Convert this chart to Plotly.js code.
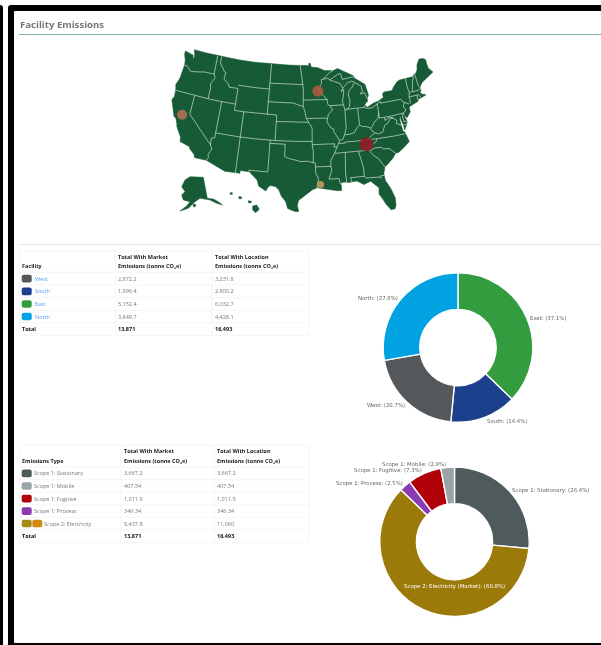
<!DOCTYPE html>
<html><head><meta charset="utf-8"><script src="https://cdn.plot.ly/plotly-3.0.1.min.js"></script>
<style>html,body{margin:0;padding:0;background:#fff;overflow:hidden}#c{width:601px;height:645px;filter:blur(0.4px)}</style></head>
<body><div id="c"></div>
<script>
// ---- data ----
const facilityNames=['West','South','East','North'];
const facilityColors=['#54585b','#1c408c','#339c3f','#00a2e2'];
const facilityMarket=[2872.2,1996.4,5152.4,3849.7];
const facilityMarketText=['2,872.2','1,996.4','5,152.4','3,849.7'];
const facilityLocationText=['3,231.8','2,800.2','6,032.7','4,428.1'];
const pieFacilityOrder=['East','South','West','North'];

const typeNames=['Scope 1: Stationary','Scope 1: Mobile','Scope 1: Fugitive','Scope 1: Process','Scope 2: Electricity'];
const typeColors=['#4f5a5c','#98a4a6','#b00008','#8a3bb0','#9b7a0a'];
const typeMarket=[3667.2,407.54,1011.9,346.34,8437.8];
const typeMarketText=['3,667.2','407.54','1,011.9','346.34','8,437.8'];
const typeLocationText=['3,667.2','407.54','1,011.9','346.34','11,060'];
const pieTypeOrder=['Scope 1: Stationary','Scope 2: Electricity','Scope 1: Process','Scope 1: Fugitive','Scope 1: Mobile'];
const totalMarketText='13,871', totalLocationText='16,493';

// facility sites, lon/lat
const siteLon=[-121.5,-93.2,-83.9,-93.2];
const siteLat=[38.6,44.9,35.96,30.2];
const siteSize=[10,11,14,7];
const siteColor=['#b0704f','#ab5a3f','#8e1f25','#c79a5e'];

// contiguous states, lon/lat
const mainland=[[-124.7,48.4],[-123.2,48.15],[-122.7,48.1],[-122.4,47.4],[-122.3,47.9],[-122.5,48.5],[-122.8,49],[-120,49],[-116,49],[-112,49],[-108,49],[-104,49],[-100,49],[-97.2,49],[-95.15,49],[-95.15,49.38],[-94.8,49.3],[-94.6,48.75],[-93,48.6],[-91.5,48.1],[-90,48.1],[-89.5,48],[-88.4,48.3],[-84.9,46.9],[-84.55,46.45],[-84.1,46.2],[-83.6,46],[-83.5,45.8],[-82.5,45.3],[-82.1,43.6],[-82.45,43],[-82.5,42.6],[-83.1,42.25],[-83.15,42.05],[-82.7,41.7],[-81.25,42.2],[-80.1,42.4],[-78.95,42.85],[-79.05,43.27],[-78.7,43.63],[-76.8,43.63],[-76.4,44.1],[-75.3,44.85],[-74.7,45],[-71.5,45],[-71.4,45.25],[-70.8,45.4],[-70.3,45.9],[-70,46.7],[-69.2,47.45],[-68.3,47.35],[-67.8,47.07],[-67.8,45.7],[-67.45,45.3],[-67,44.85],[-68.5,44.3],[-70,43.75],[-70.7,43.07],[-70.8,42.85],[-70.6,42.65],[-71,42.3],[-70.6,41.95],[-70,41.8],[-70,41.65],[-71.1,41.5],[-71.8,41.32],[-71.9,41.05],[-73.7,40.6],[-74,40.5],[-74,39.75],[-74.9,38.95],[-75.5,39.5],[-75.1,38.8],[-75.05,38.45],[-75.25,38],[-75.9,37.15],[-75.95,37.95],[-76.25,38.9],[-76.1,39.4],[-76.5,39],[-76.4,38.2],[-76.3,37],[-76,36.9],[-75.75,35.95],[-75.5,35.25],[-76.5,34.65],[-77.9,33.9],[-78.55,33.85],[-79.2,33.2],[-80.5,32.3],[-81,32],[-81.4,31],[-81.3,29.9],[-80.55,28.45],[-80.05,26.9],[-80.15,25.75],[-80.4,25.2],[-81.1,25.15],[-81.8,26.1],[-82.2,26.9],[-82.8,27.9],[-82.65,28.9],[-83.4,29.6],[-84,30.1],[-85.3,29.7],[-86.5,30.4],[-87.5,30.3],[-88,30.25],[-88.9,30.4],[-89.6,30.2],[-89.4,29.9],[-89.4,29.1],[-90.2,29.1],[-91.3,29.3],[-92.3,29.55],[-93.85,29.7],[-94.7,29.4],[-95.9,28.6],[-97.2,27.7],[-97.4,26.9],[-97.15,25.95],[-97.6,25.9],[-98.2,26.05],[-99.1,26.4],[-99.5,27.5],[-100.3,28.3],[-100.8,29.25],[-101.4,29.75],[-102.3,29.88],[-102.7,29.7],[-103.15,28.98],[-104.5,29.65],[-104.9,30.6],[-106.5,31.75],[-108.2,31.78],[-108.2,31.33],[-111.07,31.33],[-114.8,32.5],[-117.12,32.53],[-117.3,33],[-118.4,33.75],[-118.5,34.03],[-119.2,34.15],[-120.5,34.45],[-120.65,35.15],[-121.9,36.6],[-122,36.95],[-122.5,37.75],[-123,38],[-123.8,39.3],[-124.4,40.4],[-124.1,41],[-124.2,42],[-124.55,42.85],[-124.1,44],[-123.95,46.2],[-124.1,46.9],[-124.7,47.9]];
const stateBorders=[
[[-123.95,46.2],[-123.2,46.15],[-122.8,45.85],[-122.3,45.55],[-121.2,45.65],[-119.3,45.95],[-119,46],[-116.92,46]],
[[-117.03,49],[-117.04,46.4],[-116.92,46],[-116.5,45.5],[-116.85,44.9],[-117.2,44.4],[-117.03,43.8],[-117.03,42]],
[[-124.2,42],[-120,42],[-117.03,42],[-114.04,42],[-111.05,42]],
[[-116.05,49],[-116.05,48],[-114.7,46.7],[-114.35,46.65],[-114.5,45.55],[-113.45,45.05],[-113,44.45],[-111.5,44.55],[-111.05,44.5],[-111.05,42],[-111.05,41],[-109.05,41],[-106,41],[-104.05,41],[-102.05,41],[-102.05,40],[-102.05,37]],
[[-111.05,45],[-109,45],[-107,45],[-104.05,45]],
[[-104.05,49],[-104.05,45],[-104.05,41]],
[[-104.05,45.94],[-100,45.94],[-96.56,45.94]],
[[-104.05,43],[-100,43],[-98.5,43],[-97.9,42.8],[-96.45,42.5],[-96,41.5],[-95.85,40.7],[-95.3,40],[-94.6,39.1],[-94.62,37]],
[[-102.05,40],[-98,40],[-95.3,40]],
[[-114.05,37],[-111,37],[-109.05,37],[-106,37],[-103,37],[-102.05,37],[-98,37],[-94.62,37],[-94.62,36.5],[-90.15,36.5],[-90.37,36],[-89.7,36]],
[[-109.05,41],[-109.05,37],[-109.05,31.33]],
[[-114.04,42],[-114.05,37],[-114.05,36.2],[-114.7,36.1],[-114.6,35]],
[[-120,42],[-120,39],[-114.6,35],[-114.15,34.3],[-114.5,33.9],[-114.7,33.4],[-114.5,33],[-114.8,32.5]],
[[-103,37],[-103.04,36.5],[-103.05,32],[-106.6,32],[-106.5,31.75]],
[[-103.04,36.5],[-100,36.5],[-100,34.55],[-99.2,34.3],[-98.1,34.1],[-96.9,33.85],[-95.5,33.9],[-94.48,33.65],[-94.04,33.55]],
[[-94.62,36.5],[-94.43,35.4],[-94.48,33.65]],
[[-94.04,33.55],[-94.04,33],[-94.04,32],[-93.55,31.2],[-93.7,30.6],[-93.85,29.7]],
[[-94.04,33],[-91.15,33]],
[[-89.7,36],[-89.95,35.5],[-90.3,35],[-90.6,34.6],[-91.1,33.9],[-91.15,33],[-91,32.4],[-91.6,31],[-89.75,31],[-89.6,30.2]],
[[-95.77,40.6],[-91.7,40.6],[-91.4,40.4]],
[[-97.2,49],[-96.8,47],[-96.56,45.94],[-96.45,45.3],[-96.45,43.5],[-96.45,42.5]],
[[-96.45,43.5],[-91.22,43.5],[-92.75,44.75],[-92.75,45.6],[-92.3,46.1],[-92.3,46.7],[-92,46.7],[-90.4,47.7],[-89.5,48]],
[[-92,46.7],[-90.8,46.9],[-90.4,46.55],[-88.4,47.4],[-87.8,47.45],[-87.5,46.5],[-86,46.65],[-85,46.75],[-84.55,46.45]],
[[-90.4,46.55],[-88.1,45.9],[-87.6,45.1],[-88,44.55],[-87.4,44.9],[-87.5,44.2],[-87.9,43],[-87.8,42.5],[-87.53,41.7],[-87.2,41.65],[-86.5,42.1],[-86.25,43],[-86.5,44],[-86.2,44.7],[-85.6,45],[-85,45.7],[-84.75,45.8],[-83.4,45.1],[-83.3,44.3],[-83.9,43.9],[-82.9,44.05],[-82.45,43]],
[[-84.75,45.85],[-85.5,46.1],[-86.5,45.85],[-87.6,45.1]],
[[-90.65,42.5],[-87.8,42.5]],
[[-91.22,43.5],[-91.1,42.7],[-90.65,42.5],[-90.15,41.8],[-91.1,41.2],[-91.4,40.4],[-91.5,40],[-90.7,39],[-90.15,38.8],[-90.2,38.4],[-89.5,37.3],[-89.15,37],[-89.4,36.5],[-89.7,36]],
[[-87.53,41.7],[-87.53,39.35],[-87.6,38.8],[-88.05,37.8]],
[[-89.15,37],[-88.45,37.1],[-88.05,37.8],[-87.1,37.8],[-86,38],[-85.4,38.7],[-84.8,39.1],[-84.3,38.8],[-83.5,38.7],[-82.6,38.4],[-82.2,38.6],[-81.75,39.2],[-80.85,39.7],[-80.52,40.64]],
[[-84.8,39.1],[-84.8,41.7]],
[[-87.2,41.76],[-84.8,41.76],[-83.45,41.73],[-83.15,42.05]],
[[-83.45,41.73],[-82.7,41.5],[-81.7,41.5],[-80.52,41.98],[-79.76,42.27],[-79.76,42],[-75.35,42],[-75,41.5],[-74.7,41.36],[-73.9,41]],
[[-80.52,42],[-80.52,40.64],[-80.52,39.72],[-78,39.72],[-75.8,39.72],[-75.4,39.8]],
[[-74.7,41.36],[-75.1,41],[-75.1,40.6],[-74.75,40.2],[-75.4,39.8],[-75.5,39.5]],
[[-75.8,39.72],[-75.7,38.46],[-75.05,38.45]],
[[-79.48,39.72],[-79.48,39.2],[-78.4,39.6],[-77.7,39.3],[-77.1,38.9],[-77.3,38.4],[-76.3,38]],
[[-75.9,37.95],[-75.25,38]],
[[-77.7,39.3],[-78.35,39.4],[-78.9,38.75],[-79.7,38.5],[-80.3,37.5],[-81.3,37.3],[-81.95,37.55],[-82.6,38.1],[-82.6,38.4]],
[[-81.95,37.55],[-83.68,36.6]],
[[-75.9,36.55],[-78,36.55],[-81.65,36.59],[-83.68,36.6],[-86,36.63],[-88.07,36.65],[-88.07,36.5],[-89.4,36.5]],
[[-81.65,36.59],[-82,36.1],[-83.1,35.75],[-84.3,35]],
[[-90.3,35],[-88.2,35],[-85.6,34.98],[-84.3,35],[-83.1,35],[-82.4,35.2],[-81.05,35.15],[-80.8,34.82],[-79.65,34.8],[-78.55,33.85]],
[[-83.1,35],[-83.35,34.7],[-82.75,34],[-81.9,33.4],[-81.4,32.6],[-81,32]],
[[-85.6,34.98],[-85.18,32.85],[-85,32.3],[-85.05,31],[-87.6,31],[-87.45,30.3]],
[[-85.05,31],[-84.85,30.7],[-82.2,30.57],[-82.05,30.35],[-82,30.75],[-81.4,30.7]],
[[-88.2,35],[-88.45,31.9],[-88.4,30.25]],
[[-73.35,45],[-73.4,43.6],[-73.25,42.75],[-73.5,42.05],[-73.5,41.3],[-73.65,41]],
[[-71.5,45],[-72.05,44.1],[-72.45,43],[-72.46,42.73]],
[[-73.25,42.75],[-71.3,42.7],[-70.8,42.85]],
[[-73.5,42.05],[-71.8,42.02],[-71.38,42.02],[-71.1,41.5]],
[[-71.8,42.02],[-71.85,41.32]],
[[-71.08,45.3],[-70.98,43.4],[-70.7,43.07]]
];
// inset states, in map units
const alaska=[[570,530],[610,532],[622,595],[640,597],[655,605],[668,615],[650,610],[630,600],[600,595],[585,605],[565,625],[540,633],[560,618],[570,605],[550,600],[545,585],[555,575],[545,560],[555,540]];
const hawaiiBig=[[758,618],[770,615],[778,628],[767,638],[758,630]];
const hawaiiMaui=[[745,602],[755,604],[752,609],[745,608]];
const hawaiiOahu=[[716,590],[724,590],[725,596],[717,596]];
const hawaiiKauai=[[690,578],[697,578],[697,583],[690,583]];
const kodiak=[[579,613],[587,613],[586,620],[580,620]];

// ---- helpers ----
const W=601,H=645;
const fx=x=>x/W, fy=y=>1-y/H;
// Albers equal-area conic, USA parallels
const rad=Math.PI/180,an=(Math.sin(29.5*rad)+Math.sin(45.5*rad))/2,aC=Math.cos(29.5*rad)**2+2*an*Math.sin(29.5*rad),arho0=Math.sqrt(aC-2*an*Math.sin(37.5*rad))/an;
const albers=(lon,lat)=>{const th=an*(lon+96)*rad,r=Math.sqrt(aC-2*an*Math.sin(lat*rad))/an;return [3*(305.3+362*r*Math.sin(th)),3*(138.3-362*(arho0-r*Math.cos(th)))];};
const project=l=>l.map(p=>albers(p[0],p[1]));
const join=(list,close)=>{const xs=[],ys=[];list.forEach(l=>{l.forEach(p=>{xs.push(p[0]);ys.push(p[1]);});if(close){xs.push(l[0][0]);ys.push(l[0][1]);}xs.push(null);ys.push(null);});return [xs,ys];};
const landXY=join([project(mainland),alaska,hawaiiBig,hawaiiMaui,hawaiiOahu,hawaiiKauai,kodiak],true);
const bordXY=join(stateBorders.map(project),false);
const sitePts=siteLon.map((l,i)=>albers(l,siteLat[i]));
const rr=(x0,y0,x1,y1,r)=>`M ${fx(x0+r)} ${fy(y0)} L ${fx(x1-r)} ${fy(y0)} Q ${fx(x1)} ${fy(y0)} ${fx(x1)} ${fy(y0+r)} L ${fx(x1)} ${fy(y1-r)} Q ${fx(x1)} ${fy(y1)} ${fx(x1-r)} ${fy(y1)} L ${fx(x0+r)} ${fy(y1)} Q ${fx(x0)} ${fy(y1)} ${fx(x0)} ${fy(y1-r)} L ${fx(x0)} ${fy(y0+r)} Q ${fx(x0)} ${fy(y0)} ${fx(x0+r)} ${fy(y0)} Z`;
const shapes=[],ann=[];
const line=(x0,y0,x1,y1,c,w)=>shapes.push({type:'line',xref:'paper',yref:'paper',x0:fx(x0),x1:fx(x1),y0:fy(y0),y1:fy(y1),line:{color:c,width:w||1},layer:'below'});
const fillPath=(p,c)=>shapes.push({type:'path',xref:'paper',yref:'paper',path:p,fillcolor:c,line:{width:0},layer:'below'});
const label=(x,y,t,o)=>ann.push(Object.assign({xref:'paper',yref:'paper',x:fx(x-1),y:fy(y),text:t,showarrow:false,xanchor:'left',yanchor:'middle',borderpad:0,font:{family:'Open Sans',size:5.5,color:'#777'}},o||{}));
const bold=c=>({font:{family:'Open Sans',size:5.5,color:c||'#222'}});

// frame
fillPath(rr(-4,5,3,700,3),'#000');
fillPath(rr(8,5,700,700,3),'#000');
fillPath(rr(14,11,700,643,1),'#fff');
label(19.5,25,'<b>Facility Emissions</b>',{font:{family:'Open Sans',size:9.6,color:'#777'}});
line(19,34.5,601,34.5,'#80b592',1);
line(19,244.5,601,244.5,'#e6e6e6',1);

function table(o){
  const rows=o.names.length+1;
  const xs=[o.left,o.col2-2.5,o.col3-2.5,o.right];
  xs.forEach(x=>line(x,o.top,x,o.rowY[rows],'#f0f0f0',0.7));
  line(o.left,o.top,o.right,o.top,'#f0f0f0',0.7);
  o.rowY.forEach(y=>line(o.left,y,o.right,y,'#f0f0f0',0.7));
  label(21.7,o.head2,'<b>'+o.head+'</b>',bold());
  [o.col2,o.col3].forEach((x,i)=>{
    label(x,o.head1,'<b>Total With '+(i?'Location':'Market')+'</b>',bold());
    label(x,o.head2,'<b>Emissions (tonne CO₂e)</b>',bold());
  });
  o.names.forEach((n,i)=>{
    const cy=(o.rowY[i]+o.rowY[i+1])/2;
    fillPath(rr(21.7,cy-3.8,31.7,cy+3.8,2),o.colors[i]);
    let tx=o.textX;
    if(o.extra&&o.extra[i]){fillPath(rr(32.3,cy-3.8,42.3,cy+3.8,2),o.extra[i]);tx=44;}
    label(tx,cy,n,{font:{family:'Open Sans',size:5.5,color:o.nameColor}});
    label(o.col2,cy,o.market[i]);
    label(o.col3,cy,o.location[i]);
  });
  const cy=(o.rowY[rows-1]+o.rowY[rows])/2;
  label(21.7,cy,'<b>Total</b>',bold('#111'));
  label(o.col2,cy,'<b>'+totalMarketText+'</b>',bold('#111'));
  label(o.col3,cy,'<b>'+totalLocationText+'</b>',bold('#111'));
}
table({names:facilityNames,colors:facilityColors,market:facilityMarketText,location:facilityLocationText,head:'Facility',
  left:20,right:309,top:251,col2:118,col3:214.5,rowY:[272.3,285,297.7,310.3,322.7,335.3],head1:257,head2:266.3,textX:35,nameColor:'#4d9ff0'});
table({names:typeNames,colors:['#4f5a5c','#98a4a6','#b00008','#8a3bb0','#a88a10'],extra:[null,null,null,null,'#d08a10'],market:typeMarketText,location:typeLocationText,head:'Emissions Type',
  left:20,right:309,top:445,col2:123.5,col3:217,rowY:[467,479.7,492.3,505,517.3,529.7,542.3],head1:451,head2:460.7,textX:33.7,nameColor:'#777'});

// donuts
const pick=(order,names,arr)=>order.map(n=>arr[names.indexOf(n)]);
const facVals=pick(pieFacilityOrder,facilityNames,facilityMarket);
const typeVals=pick(pieTypeOrder,typeNames,typeMarket);
const pct=(v,a)=>(100*v/a.reduce((s,x)=>s+x,0)).toFixed(1);
function donut(cx,cy,r,labels,vals,colors){
  return {type:'pie',labels:labels,values:vals,sort:false,direction:'clockwise',rotation:0,hole:0.51,
    textposition:'none',textinfo:'none',hoverinfo:'none',
    marker:{colors:colors,line:{color:'#fff',width:1.4}},
    domain:{x:[fx(cx-r),fx(cx+r)],y:[fy(cy+r),fy(cy-r)]}};
}
const pieFont={family:'DejaVu Sans',size:5.4,color:'#666'};
const facLabelPos={East:[529.7,317.7],South:[486.7,421],West:[366.7,405],North:[358,298]};
pieFacilityOrder.forEach((n,i)=>label(facLabelPos[n][0],facLabelPos[n][1],n+': ('+pct(facVals[i],facVals)+'%)',{font:pieFont}));
const typeLabelPos={'Scope 1: Stationary':[511.7,490],'Scope 2: Electricity':[403.7,586],'Scope 1: Process':[335.7,483.7],'Scope 1: Fugitive':[354.3,470.7],'Scope 1: Mobile':[381.7,464]};
pieTypeOrder.forEach((n,i)=>{
  const isE=n==='Scope 2: Electricity';
  label(typeLabelPos[n][0],typeLabelPos[n][1],(isE?'Scope 2: Electricity (Market)':n)+': ('+pct(typeVals[i],typeVals)+'%)',{font:isE?{family:'DejaVu Sans',size:5.4,color:'#fff'}:pieFont});
});

const traces=[
 {type:'scatter',x:landXY[0],y:landXY[1],mode:'lines',fill:'toself',fillcolor:'#165a36',line:{color:'#165a36',width:0.5},hoverinfo:'skip'},
 {type:'scatter',x:bordXY[0],y:bordXY[1],mode:'lines',line:{color:'#cfe0d4',width:0.7},hoverinfo:'skip'},
 {type:'scatter',x:sitePts.map(p=>p[0]),y:sitePts.map(p=>p[1]),mode:'markers',marker:{size:siteSize,color:siteColor,opacity:0.92,line:{width:0}},hoverinfo:'skip'},
 donut(458,347.5,74.8,pieFacilityOrder,facVals,pick(pieFacilityOrder,facilityNames,facilityColors)),
 donut(454.5,541.7,74.7,pieTypeOrder,typeVals,pick(pieTypeOrder,typeNames,typeColors))
];
Plotly.newPlot('c',traces,{width:W,height:H,margin:{l:0,r:0,t:0,b:0,pad:0},showlegend:false,paper_bgcolor:'#fff',plot_bgcolor:'rgba(0,0,0,0)',
 xaxis:{range:[0,1803],visible:false,fixedrange:true},yaxis:{range:[1935,0],visible:false,fixedrange:true},shapes:shapes,annotations:ann},{displayModeBar:false,staticPlot:true});
</script></body></html>
